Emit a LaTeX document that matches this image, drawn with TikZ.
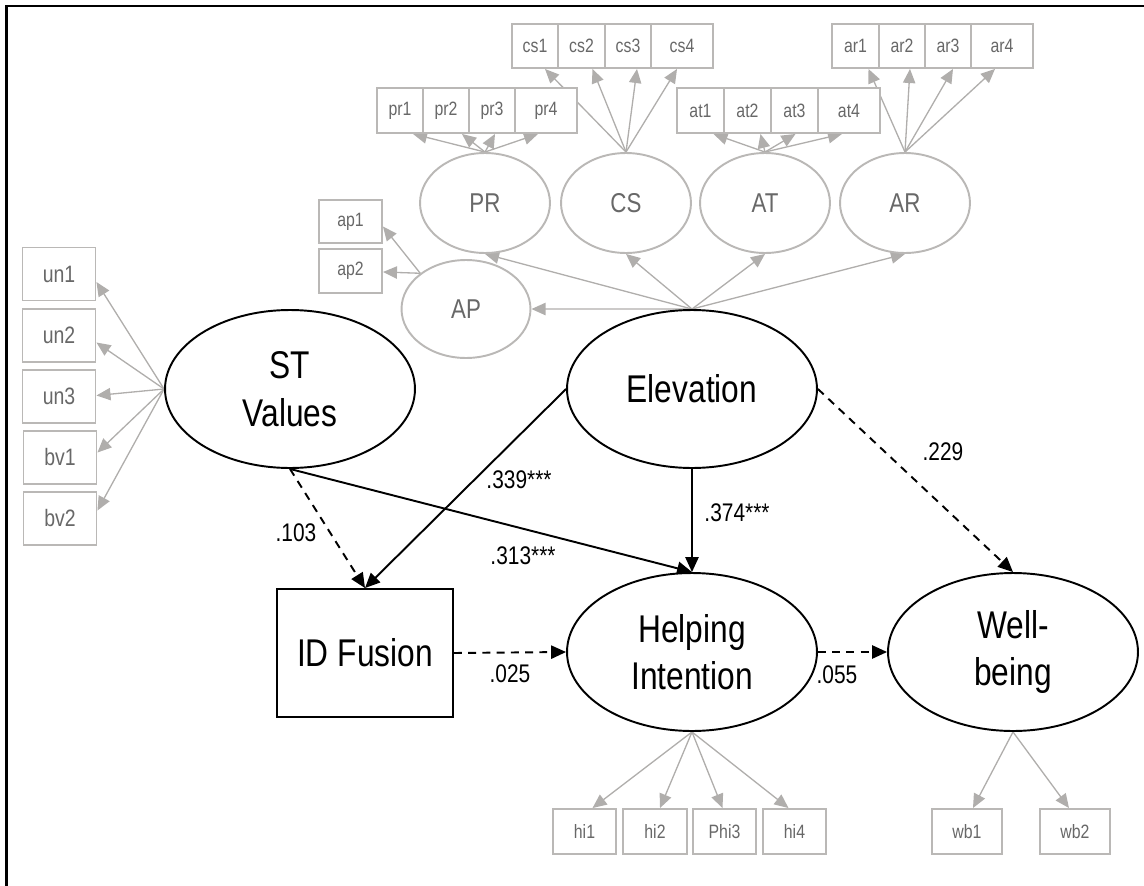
\documentclass[tikz,border=0pt]{standalone}
\usepackage{fontspec}
\setmainfont{Liberation Sans}[FakeStretch=0.82]
\usetikzlibrary{shapes.geometric,arrows.meta,calc,backgrounds}
\definecolor{linegray}{RGB}{176,174,172}
\definecolor{boxgray}{RGB}{186,184,182}
\definecolor{txtgray}{RGB}{104,104,104}
\newcommand{\pxu}{0.56905pt}

\begin{document}
\begin{tikzpicture}[x=0.02cm,y=-0.02cm,
  ind/.style={rectangle, draw=boxgray, line width=1.1pt, fill=white, inner sep=0pt,
    text=txtgray, font=\fontsize{11}{13}\selectfont,
    minimum height=44*\pxu, minimum width=46*\pxu},
  lat/.style={ellipse, draw=boxgray, line width=1.1pt, fill=white, inner sep=0pt,
    text=txtgray, font=\fontsize{15.5}{18}\selectfont,
    minimum width=130*\pxu, minimum height=100*\pxu},
  main/.style={ellipse, draw=black, line width=1.1pt, fill=white, inner sep=0pt,
    align=center, font=\fontsize{22}{27}\selectfont,
    minimum width=250*\pxu, minimum height=158*\pxu},
  ldg/.style={draw=linegray, line width=0.75pt, -{Triangle[length=8pt,width=7pt]}},
  pth/.style={draw=black, line width=1.1pt, -{Triangle[length=8.5pt,width=7.5pt]}},
  npth/.style={pth, dash pattern=on 4.5pt off 3.6pt},
  coef/.style={font=\fontsize{14.5}{17}\selectfont, inner sep=0pt}
]
\useasboundingbox (0,0) rectangle (1144,886);

% frame
\draw[line width=1.4pt] (1150,6) -- (6.5,6) -- (6.5,892);

% ---- first-order factors of Elevation and their items
\node[lat] (pr) at (485,203) {PR};
\node[lat] (cs) at (626,203) {CS};
\node[lat] (at) at (765,203) {AT};
\node[lat] (ar) at (905,203) {AR};
\node[lat, minimum width=129*\pxu, minimum height=98*\pxu] (ap) at (466,309) {AP};

\node[ind, minimum height=45*\pxu] (pr1) at (400,110.5) {pr1};
\node[ind, minimum height=45*\pxu] (pr2) at (446,110.5) {pr2};
\node[ind, minimum height=45*\pxu] (pr3) at (492,110.5) {pr3};
\node[ind, minimum height=45*\pxu, minimum width=62*\pxu] (pr4) at (546,110.5) {pr4};

\node[ind] (cs1) at (535,46) {cs1};
\node[ind, minimum width=47*\pxu] (cs2) at (581.5,46) {cs2};
\node[ind] (cs3) at (628,46) {cs3};
\node[ind, minimum width=62*\pxu] (cs4) at (682,46) {cs4};

\node[ind, minimum height=45*\pxu, minimum width=47*\pxu] (at1) at (700.5,110.5) {at1};
\node[ind, minimum height=45*\pxu, minimum width=47*\pxu] (at2) at (747.5,110.5) {at2};
\node[ind, minimum height=45*\pxu, minimum width=47*\pxu] (at3) at (794.5,110.5) {at3};
\node[ind, minimum height=45*\pxu, minimum width=62*\pxu] (at4) at (849,110.5) {at4};

\node[ind, minimum width=47*\pxu] (ar1) at (855.5,46) {ar1};
\node[ind] (ar2) at (902,46) {ar2};
\node[ind] (ar3) at (948,46) {ar3};
\node[ind, minimum width=62*\pxu] (ar4) at (1002,46) {ar4};

\node[ind, minimum width=63*\pxu, minimum height=43*\pxu] (ap1) at (350.5,221.5) {ap1};
\node[ind, minimum width=63*\pxu, minimum height=44*\pxu] (ap2) at (350.5,271) {ap2};

% ---- ST Values items
\node[ind, minimum width=73*\pxu, minimum height=53*\pxu, font=\fontsize{13.5}{16}\selectfont] (un1) at (59,274) {un1};
\node[ind, minimum width=73*\pxu, minimum height=53*\pxu, font=\fontsize{13.5}{16}\selectfont] (un2) at (59,335.5) {un2};
\node[ind, minimum width=73*\pxu, minimum height=53*\pxu, font=\fontsize{13.5}{16}\selectfont] (un3) at (59,396.5) {un3};
\node[ind, minimum width=73*\pxu, minimum height=53*\pxu, font=\fontsize{13.5}{16}\selectfont] (bv1) at (60,457.5) {bv1};
\node[ind, minimum width=73*\pxu, minimum height=53*\pxu, font=\fontsize{13.5}{16}\selectfont] (bv2) at (60,518.5) {bv2};

% ---- structural part
\node[main] (st) at (290,389) {ST\\Values};
\node[main] (elev) at (692,389) {Elevation};
\node[main] (help) at (692,652) {Helping\\Intention};
\node[main] (wb) at (1013,652) {Well-\\being};
\node[rectangle, draw=black, line width=1.1pt, fill=white, inner sep=0pt,
  font=\fontsize{22}{27}\selectfont,
  minimum width=176*\pxu, minimum height=128*\pxu] (idf) at (365,653) {ID Fusion};

% ---- outcome items
\node[ind, minimum width=63*\pxu, minimum height=45*\pxu] (hi1) at (584.5,831.5) {hi1};
\node[ind, minimum width=64*\pxu, minimum height=45*\pxu] (hi2) at (655,831.5) {hi2};
\node[ind, minimum width=63*\pxu, minimum height=45*\pxu] (phi3) at (724.5,831.5) {Phi3};
\node[ind, minimum width=63*\pxu, minimum height=45*\pxu] (hi4) at (794.5,831.5) {hi4};
\node[ind, minimum width=70*\pxu, minimum height=45*\pxu] (wb1) at (967,831.5) {wb1};
\node[ind, minimum width=70*\pxu, minimum height=45*\pxu] (wb2) at (1075,831.5) {wb2};

% ---- coefficients
\node[coef] (c339) at (519,480) {.339***};
\node[coef] (c313) at (523,556) {.313***};
\node[coef] (c103) at (296,533) {.103};
\node[coef] (c374) at (737,513) {.374***};
\node[coef] (c025) at (510,674) {.025};
\node[coef] (c055) at (837,675) {.055};
\node[coef] (c229) at (943,452) {.229};

\begin{pgfonlayer}{background}
  % loadings of the first-order factors
  \draw[ldg] (pr.north) -- ($(pr1.south)+(13,0)$);
  \draw[ldg] (pr.north) -- ($(pr2.south)+(16,0)$);
  \draw[ldg] (pr.north) -- ($(pr3.south)+(3,0)$);
  \draw[ldg] (pr.north) -- ($(pr4.south)+(-8,0)$);
  \draw[ldg] (cs.north) -- ($(cs1.south)+(10,0)$);
  \draw[ldg] (cs.north) -- ($(cs2.south)+(11,0)$);
  \draw[ldg] (cs.north) -- ($(cs3.south)+(9,0)$);
  \draw[ldg] (cs.north) -- ($(cs4.south)+(-5,0)$);
  \draw[ldg] (at.north) -- ($(at1.south)+(13,0)$);
  \draw[ldg] (at.north) -- ($(at2.south)+(13,0)$);
  \draw[ldg] (at.north) -- ($(at3.south)+(1,0)$);
  \draw[ldg] (at.north) -- ($(at4.south)+(-7,0)$);
  \draw[ldg] (ar.north) -- ($(ar1.south)+(13,0)$);
  \draw[ldg] (ar.north) -- ($(ar2.south)+(8,0)$);
  \draw[ldg] (ar.north) -- ($(ar3.south)+(5,0)$);
  \draw[ldg] (ar.north) -- ($(ar4.south)+(-7,0)$);
  \draw[ldg] (ap.142) -- ($(ap1.east)+(0,5)$);
  \draw[ldg] (ap.142) -- ($(ap2.east)+(0,1)$);
  % second-order loadings
  \draw[ldg] (elev.north) -- (pr.south);
  \draw[ldg] (elev.north) -- (cs.south);
  \draw[ldg] (elev.north) -- (at.south);
  \draw[ldg] (elev.north) -- (ar.south);
  \draw[ldg] (elev.north) -- (ap);
  % ST Values items
  \draw[ldg] (st.west) -- ($(un1.east)+(0,8)$);
  \draw[ldg] (st.west) -- ($(un2.east)+(0,7)$);
  \draw[ldg] (st.west) -- ($(un3.east)+(0,-1)$);
  \draw[ldg] (st.west) -- ($(bv1.east)+(0,-5)$);
  \draw[ldg] (st.west) -- ($(bv2.east)+(0,-8)$);
  % outcome items
  \draw[ldg] (help.south) -- ($(hi1.north)+(8,0)$);
  \draw[ldg] (help.south) -- ($(hi2.north)+(5,0)$);
  \draw[ldg] (help.south) -- ($(phi3.north)+(-2,0)$);
  \draw[ldg] (help.south) -- ($(hi4.north)+(-6,0)$);
  \draw[ldg] (wb.south) -- ($(wb1.north)+(6,0)$);
  \draw[ldg] (wb.south) -- ($(wb2.north)+(-6,0)$);
  % structural paths
  \draw[npth] (st.south) -- (idf.north);
  \draw[pth] (st.south) -- (help.north);
  \draw[pth] (elev.west) -- (idf.north);
  \draw[pth] (elev.south) -- (help.north);
  \draw[npth] (elev.east) -- (wb.north);
  \draw[npth] (idf.east) -- (help.west);
  \draw[npth] (help.east) -- (wb.west);
\end{pgfonlayer}
\end{tikzpicture}
\end{document}
